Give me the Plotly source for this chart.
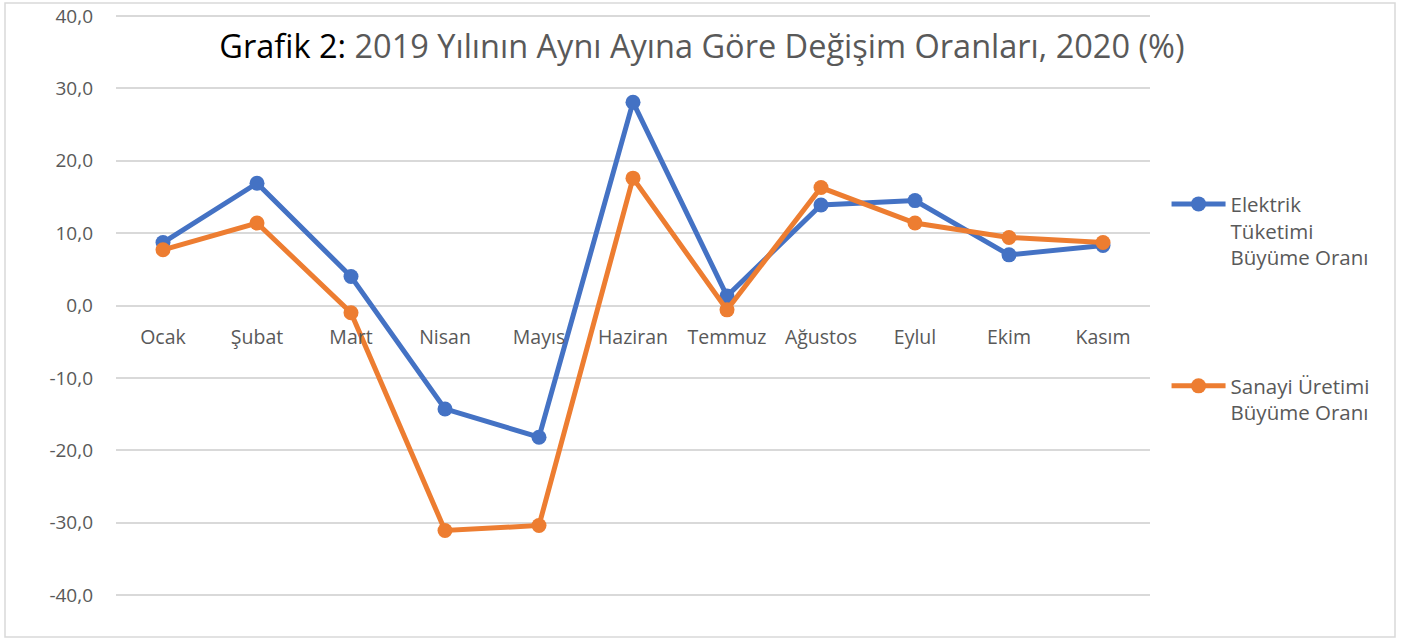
import plotly.graph_objects as go

months = ["Ocak", "Şubat", "Mart", "Nisan", "Mayıs", "Haziran", "Temmuz", "Ağustos", "Eylul", "Ekim", "Kasım"]
elektrik = [8.7, 16.9, 4.0, -14.3, -18.2, 28.1, 1.3, 13.9, 14.5, 7.0, 8.3]
sanayi = [7.7, 11.4, -1.0, -31.1, -30.4, 17.6, -0.6, 16.3, 11.4, 9.4, 8.7]
ytick_vals = [-40, -30, -20, -10, 0, 10, 20, 30, 40]
ytick_text = ["-40,0", "-30,0", "-20,0", "-10,0", "0,0", "10,0", "20,0", "30,0", "40,0"]

fig = go.Figure()
fig.add_trace(go.Scatter(
    x=months, y=elektrik, mode="lines+markers",
    name="Elektrik<br>Tüketimi<br>Büyüme Oranı", legendgroup="a",
    line=dict(color="#4472C4", width=5), marker=dict(size=15, color="#4472C4")))
fig.add_trace(go.Scatter(
    x=months, y=sanayi, mode="lines+markers",
    name="Sanayi Üretimi<br>Büyüme Oranı", legendgroup="b",
    line=dict(color="#ED7D31", width=5), marker=dict(size=15, color="#ED7D31")))

fig.update_layout(
    width=1401, height=640,
    paper_bgcolor="white", plot_bgcolor="white",
    margin=dict(l=116, r=251, t=15, b=44, autoexpand=False),
    font=dict(family="Open Sans", color="#595959"),
    title=dict(
        text="<span style='color:#000000'>Grafik 2:</span> 2019 Yılının Aynı Ayına Göre Değişim Oranları, 2020 (%)",
        x=0.501, xanchor="center", y=1 - 47 / 640, yanchor="middle",
        font=dict(family="Open Sans", size=32.5, color="#595959")),
    xaxis=dict(
        type="category", range=[-0.5, 10.5], anchor="free", position=0.5, automargin=False,
        showgrid=False, showline=False, zeroline=False, ticks="",
        tickfont=dict(size=19.5, color="#595959"), ticklabelstandoff=18),
    yaxis=dict(
        range=[-40.15, 40.15], tickvals=ytick_vals, ticktext=ytick_text, automargin=False,
        showgrid=True, gridcolor="#D9D9D9", gridwidth=1.5,
        zeroline=True, zerolinecolor="#D9D9D9", zerolinewidth=1.5,
        showline=False, ticks="", ticklabelstandoff=22,
        tickfont=dict(size=19, color="#595959")),
    legend=dict(
        x=1.016, xanchor="left", y=0.709, yanchor="top",
        font=dict(size=20.5, color="#595959"), tracegroupgap=99,
        itemwidth=54, valign="top"),
    shapes=[dict(type="rect", xref="paper", yref="paper",
                 x0=(5 - 116) / 1034, x1=(1395 - 116) / 1034,
                 y0=(596 - 637) / 581, y1=(596 - 3) / 581,
                 line=dict(color="#D9D9D9", width=1.5), fillcolor="rgba(0,0,0,0)", layer="below")],
)

fig.write_html("out.html", config={"displayModeBar": False},
               post_script="document.body.style.margin='0';document.body.style.padding='0';")
